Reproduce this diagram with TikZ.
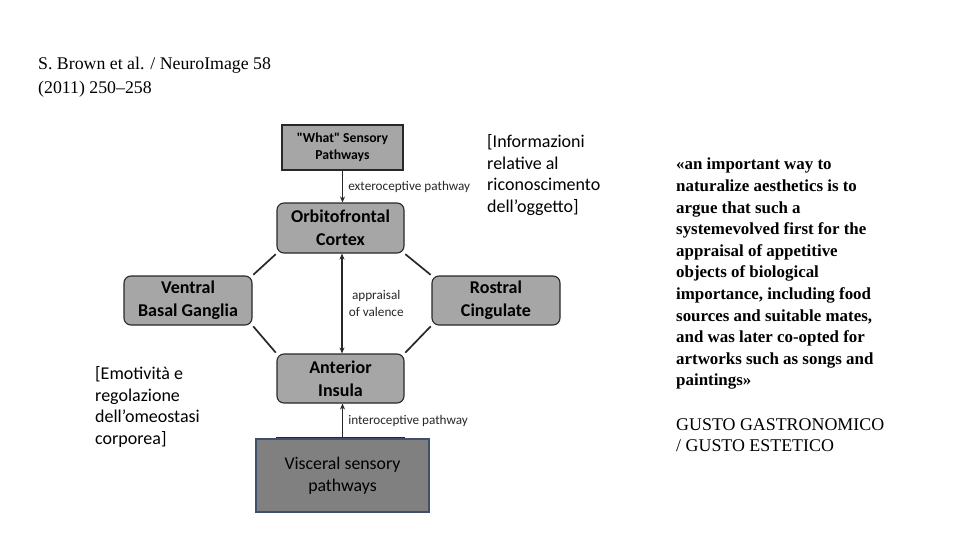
\documentclass[tikz,border=0pt]{standalone}
\usepackage{fontspec}
\setmainfont{Liberation Serif}
\newfontfamily\calibri{Carlito}
\usetikzlibrary{arrows.meta}
\definecolor{boxgray}{RGB}{166,166,166}
\definecolor{visgray}{RGB}{128,128,128}
\definecolor{visline}{RGB}{62,80,108}
\definecolor{inkgray}{RGB}{40,40,40}
\begin{document}
\begin{tikzpicture}[x=1pt,y=-1pt,
  region/.style={draw=inkgray,line width=1.1pt,fill=boxgray,rounded corners=7pt,
    align=center,inner sep=0pt,font=\calibri\bfseries\fontsize{18}{23}\selectfont},
  pathlbl/.style={font=\calibri\fontsize{13.2}{17}\selectfont,align=center,inner sep=0pt},
  link/.style={line width=1.7pt,inkgray},
  note/.style={anchor=north west,align=left,inner sep=0pt}]%
\useasboundingbox (0,0) rectangle (960,540);%
% diagram
\node [region,rounded corners=0pt,minimum width=121pt,minimum height=45pt,
  font=\calibri\bfseries\fontsize{13.7}{17}\selectfont] (what) at (342.5,147.5) {"What" Sensory\\Pathways};%
\node [region,minimum width=127pt,minimum height=50pt] (ofc) at (340.5,228) {Orbitofrontal\\Cortex};%
\node [region,minimum width=128pt,minimum height=49pt] (vbg) at (188,300.5) {Ventral\\Basal Ganglia};%
\node [region,minimum width=128pt,minimum height=49pt] (rc) at (496,300.5) {Rostral\\Cingulate};%
\node [region,minimum width=127pt,minimum height=49pt] (ai) at (340.5,378.5) {Anterior\\Insula};%
\node [draw=visline,line width=1.3pt,fill=visgray,minimum width=173pt,minimum height=73pt,
  align=center,inner sep=0pt,font=\calibri\fontsize{17.8}{22}\selectfont] (vis) at (342.5,475.5) {Visceral sensory\\pathways};%
\draw [line width=1.3pt,inkgray] ([yshift=1pt]vis.north -| ai.west) -- ([yshift=1pt]vis.north -| ai.east);%
% connectors
\draw [link,-{Stealth[length=6pt,width=5pt]}] (what.south) -- (what.south |- ofc.north)
  node [pathlbl,midway,right=5pt] (extlbl) {exteroceptive pathway};%
\draw [link,{Stealth[length=6pt,width=5pt]}-{Stealth[length=6pt,width=5pt]}] ([xshift=1.5pt]ofc.south) -- ([xshift=1.5pt]ai.north)
  node [pathlbl,midway,right=6pt] (vallbl) {appraisal\\of valence};%
\draw [link,-{Stealth[length=6pt,width=5pt]}] (vis.north) -- (vis.north |- ai.south)
  node [pathlbl,midway,right=5pt] (intlbl) {interoceptive pathway};%
\draw [link,shorten <=1pt,shorten >=1pt] (ofc.south west) -- (vbg.north east);%
\draw [link,shorten <=1pt,shorten >=1pt] (ofc.south east) -- (rc.north west);%
\draw [link,shorten <=1pt,shorten >=1pt] (vbg.south east) -- (ai.north west);%
\draw [link,shorten <=1pt,shorten >=1pt] (rc.south west) -- (ai.north east);%
% texts
\node [note,font=\fontsize{17.8}{24}\selectfont] (ref) at (38,57) {S. Brown et al. / NeuroImage 58\\(2011) 250--258};%
\node [note,font=\calibri\fontsize{18}{21.8}\selectfont] (obj) at (487,134) {[Informazioni\\relative al\\riconoscimento\\dell’oggetto]};%
\node [note,font=\calibri\fontsize{18}{21.8}\selectfont] (emo) at (95,366) {[Emotività e\\regolazione\\dell’omeostasi\\corporea]};%
\node [note,font=\bfseries\fontsize{16.9}{21.6}\selectfont] (quote) at (676,158) {«an important way to\\naturalize aesthetics is to\\argue that such a\\systemevolved first for the\\appraisal of appetitive\\objects of biological\\importance, including food\\sources and suitable mates,\\and was later co-opted for\\artworks such as songs and\\paintings»};%
\node [note,font=\fontsize{17.9}{21.6}\selectfont] (gusto) at (676,418) {GUSTO GASTRONOMICO\\/ GUSTO ESTETICO};%
\end{tikzpicture}
\end{document}
